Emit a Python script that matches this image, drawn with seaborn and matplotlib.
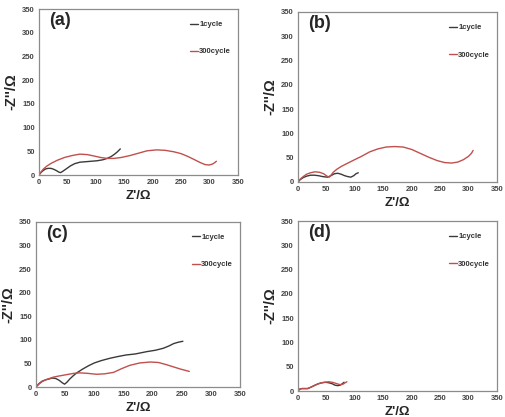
import numpy as np
import pandas as pd
import matplotlib
matplotlib.use("Agg")
import matplotlib.pyplot as plt
import seaborn as sns

# Nyquist data (Z' , -Z'')
a_1_x = [0, 4, 8, 12, 16, 21, 26, 31, 35, 38, 42, 48, 55, 63, 72, 82, 92, 102, 112, 120, 127, 133, 138, 143]
a_1_y = [0, 6, 10, 13, 14, 14, 12, 9, 6, 5, 8, 13, 19, 24, 27, 28, 29, 30, 32, 35, 39, 44, 49, 55]
a_300_x = [0, 4, 8, 14, 22, 32, 45, 58, 72, 85, 97, 108, 120, 132, 145, 160, 175, 190, 207, 222, 237, 250, 262, 274, 284, 292, 299, 305, 309, 312]
a_300_y = [0, 7, 13, 19, 25, 31, 37, 41, 44, 43, 40, 37, 35, 35, 37, 41, 46, 51, 53, 52, 49, 45, 39, 32, 26, 22, 21, 23, 26, 29]

b_1_x = [0, 4, 9, 15, 22, 29, 36, 44, 52, 58, 64, 70, 76, 82, 88, 93, 98, 102, 106]
b_1_y = [0, 5, 9, 12, 14, 14, 13, 11, 10, 13, 17, 18, 16, 13, 11, 10, 13, 17, 19]
b_300_x = [0, 4, 9, 15, 22, 30, 38, 45, 51, 55, 58, 62, 68, 76, 86, 98, 112, 126, 140, 155, 170, 185, 200, 215, 230, 245, 258, 270, 281, 291, 300, 305, 308]
b_300_y = [0, 6, 11, 16, 19, 21, 20, 17, 12, 10, 14, 20, 26, 32, 38, 45, 53, 62, 68, 72, 73, 72, 67, 59, 51, 44, 40, 39, 41, 46, 53, 59, 65]

c_1_x = [0, 5, 10, 16, 22, 28, 34, 40, 45, 49, 53, 58, 64, 70, 80, 90, 100, 112, 127, 142, 155, 170, 190, 205, 218, 228, 236, 244, 252]
c_1_y = [0, 7, 12, 15, 17, 19, 18, 14, 9, 6, 10, 17, 24, 30, 38, 45, 51, 56, 61, 65, 68, 70, 75, 78, 82, 87, 92, 95, 97]
c_300_x = [0, 5, 10, 16, 23, 30, 38, 47, 56, 65, 75, 88, 104, 118, 133, 147, 161, 178, 196, 210, 222, 235, 248, 263]
c_300_y = [0, 6, 11, 15, 18, 21, 23, 25, 27, 29, 30, 29, 27, 28, 31, 39, 46, 51, 53, 52, 48, 43, 38, 33]

d_1_x = [0, 3, 7, 12, 17, 23, 30, 36, 42, 48, 54, 60, 65, 70, 74, 78, 81]
d_1_y = [0, 4, 5, 5, 5, 8, 12, 15, 17, 18, 17, 15, 12, 11, 12, 15, 18]
d_300_x = [0, 3, 7, 12, 17, 23, 30, 36, 42, 48, 54, 60, 66, 71, 75, 79, 83, 86]
d_300_y = [0, 4, 5, 5, 5, 8, 12, 15, 17, 18, 19, 18, 16, 14, 13, 14, 17, 19]

panels = [
    ("(a)", a_1_x, a_1_y, a_300_x, a_300_y, [39, 9, 238, 175]),
    ("(b)", b_1_x, b_1_y, b_300_x, b_300_y, [298, 12, 497, 182]),
    ("(c)", c_1_x, c_1_y, c_300_x, c_300_y, [36, 222, 240, 387]),
    ("(d)", d_1_x, d_1_y, d_300_x, d_300_y, [298, 221, 497, 391]),
]

ticks = [0, 50, 100, 150, 200, 250, 300, 350]

sns.set_style("white")
plt.rcParams['font.family'] = ['Liberation Sans', 'DejaVu Sans']

W, H = 505, 417
fig = plt.figure(figsize=(W / 100, H / 100), dpi=100)

for name, x1, y1, x3, y3, box in panels:
    l, t, r, b = box
    ax = fig.add_axes([l / W, 1 - b / H, (r - l) / W, (b - t) / H])
    df = pd.concat([
        pd.DataFrame({"x": x1, "y": y1, "s": "1cycle"}),
        pd.DataFrame({"x": x3, "y": y3, "s": "300cycle"}),
    ])
    sns.lineplot(data=df, x="x", y="y", hue="s", sort=False, estimator=None,
                 palette={"1cycle": "#3a3a3a", "300cycle": "#c0504d"},
                 linewidth=1.0, ax=ax)
    ax.set_xlim(0, 350)
    ax.set_ylim(0, 350)
    ax.set_xticks(ticks)
    ax.set_yticks(ticks)
    ax.tick_params(length=0, pad=3, labelsize=5.5, labelcolor="#444444")
    for lab in ax.get_xticklabels() + ax.get_yticklabels():
        lab.set_fontweight("bold")
    for sp in ax.spines.values():
        sp.set_color("#8c8c8c")
        sp.set_linewidth(0.9)
    ax.set_xlabel("Z'/\u03a9", fontsize=9.5, fontweight="bold", labelpad=2.5)
    ax.set_ylabel("-Z''/\u03a9", fontsize=10.5, fontweight="bold", labelpad=3)
    ax.text(0.05, 0.98, name, transform=ax.transAxes, fontsize=13,
            fontweight="bold", va="top", ha="left")
    leg = ax.legend(loc="upper right", frameon=False, handlelength=1.1,
                    handletextpad=0.1, labelspacing=2.6, fontsize=5.5,
                    bbox_to_anchor=(1.0, 0.97))
    for txt in leg.get_texts():
        txt.set_fontweight("bold")
        txt.set_color("#333333")

fig.savefig("out.png", dpi=100)
